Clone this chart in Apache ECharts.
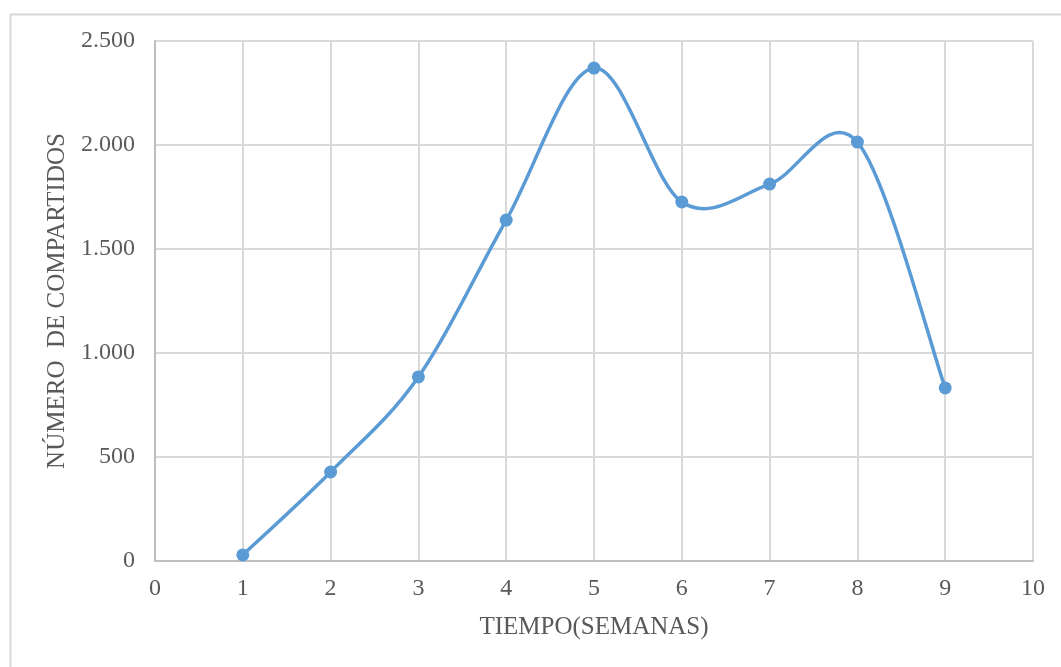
<!DOCTYPE html>
<html>
<head>
<meta charset="utf-8">
<script src="https://cdn.jsdelivr.net/npm/echarts@6/dist/echarts.min.js"></script>
<style>
  html, body { margin: 0; padding: 0; background: #ffffff; }
  #chart { width: 1061px; height: 667px; }
</style>
</head>
<body>
<div id="chart"></div>
<script>
// Weekly share counts
const weeks = [1, 2, 3, 4, 5, 6, 7, 8, 9];
const shares = [29, 428, 885, 1639, 2370, 1726, 1812, 2014, 832];

const xTitle = 'TIEMPO(SEMANAS)';
const yTitle = 'NÚMERO  DE COMPARTIDOS';

const fontFamily = '"Liberation Serif", "Times New Roman", serif';
const textColor = '#595959';
const lineColor = '#5b9bd5';

const points = weeks.map((w, i) => [w, shares[i]]);

// thousands separator as a dot
function fmtThousands(v) {
  return String(v).replace(/\B(?=(\d{3})+(?!\d))/g, '.');
}

// Catmull-Rom style smoothing: each item draws the cubic segment to the next point
function renderSegment(params, api) {
  const i = params.dataIndexInside;
  const n = points.length;
  if (i >= n - 1) return null;
  const p = k => api.coord(points[Math.max(0, Math.min(n - 1, k))]);
  const p0 = p(i - 1), p1 = p(i), p2 = p(i + 1), p3 = p(i + 2);
  const c1 = [p1[0] + (p2[0] - p0[0]) / 6, p1[1] + (p2[1] - p0[1]) / 6];
  const c2 = [p2[0] - (p3[0] - p1[0]) / 6, p2[1] - (p3[1] - p1[1]) / 6];
  return {
    type: 'bezierCurve',
    shape: { x1: p1[0], y1: p1[1], x2: p2[0], y2: p2[1], cpx1: c1[0], cpy1: c1[1], cpx2: c2[0], cpy2: c2[1] },
    style: { stroke: lineColor, lineWidth: 3.5, fill: null, lineCap: 'round' },
    silent: true
  };
}

const chart = echarts.init(document.getElementById('chart'), null, { renderer: 'canvas' });

chart.setOption({
  animation: false,
  backgroundColor: '#ffffff',
  graphic: [{
    type: 'rect',
    left: 8,
    top: 12,
    shape: { width: 1100, height: 700 },
    style: { fill: 'none', stroke: '#d9d9d9', lineWidth: 2 },
    silent: true,
    z: -1
  }],
  grid: { left: 155, right: 28, top: 41, bottom: 106, containLabel: false },
  xAxis: {
    type: 'value',
    min: 0,
    max: 10,
    interval: 1,
    name: xTitle,
    nameLocation: 'middle',
    nameGap: 54,
    nameTextStyle: { fontFamily, fontSize: 25, color: textColor },
    axisLine: { show: true, lineStyle: { color: '#bfbfbf', width: 2 } },
    axisTick: { show: false },
    axisLabel: { fontFamily, fontSize: 24, color: textColor, margin: 16 },
    splitLine: { show: true, lineStyle: { color: '#d9d9d9', width: 2 } }
  },
  yAxis: {
    type: 'value',
    min: 0,
    max: 2500,
    interval: 500,
    name: yTitle,
    nameLocation: 'middle',
    nameGap: 82,
    nameRotate: 90,
    nameTextStyle: { fontFamily, fontSize: 25, color: textColor },
    axisLine: { show: true, lineStyle: { color: '#bfbfbf', width: 2 } },
    axisTick: { show: false },
    axisLabel: { fontFamily, fontSize: 24, color: textColor, margin: 20, formatter: fmtThousands },
    splitLine: { show: true, lineStyle: { color: '#d9d9d9', width: 2 } }
  },
  series: [{
    type: 'custom',
    renderItem: renderSegment,
    data: points,
    z: 3
  }, {
    type: 'scatter',
    data: points,
    symbol: 'circle',
    symbolSize: 13,
    itemStyle: { color: lineColor, opacity: 1 },
    z: 4
  }]
});
</script>
</body>
</html>
